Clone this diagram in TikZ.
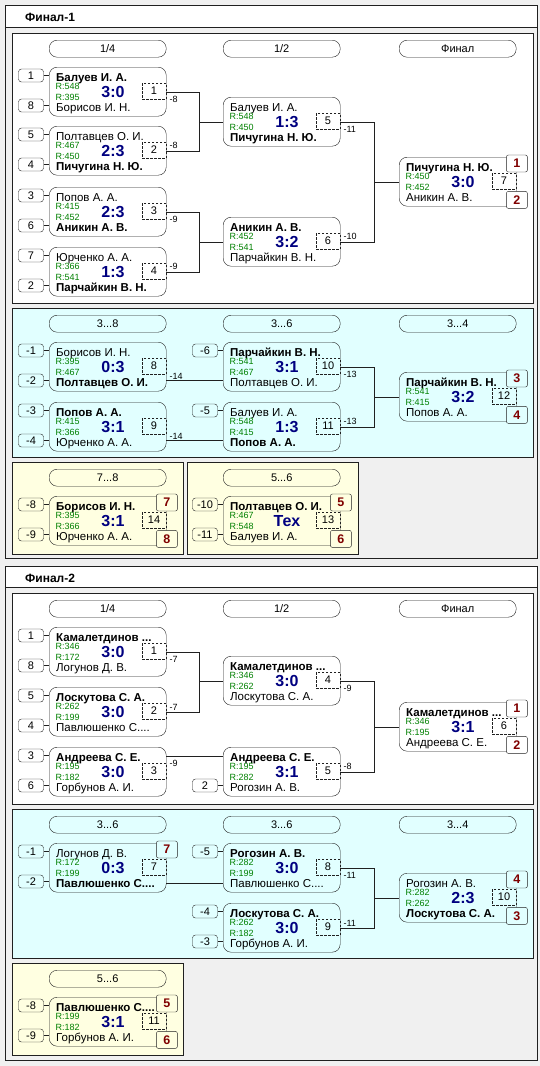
\documentclass[tikz,border=0pt]{standalone}
\usepackage{fontspec}
\setmainfont{Liberation Sans}
\definecolor{bg}{HTML}{F0F0F0}
\definecolor{cy}{HTML}{E1FFFF}
\definecolor{ye}{HTML}{FFFFE1}
\definecolor{navy}{HTML}{000080}
\definecolor{rgreen}{HTML}{008000}
\definecolor{medalred}{HTML}{800000}
\definecolor{edge}{HTML}{202020}
\tikzset{
 every node/.style={inner sep=0pt},
 mbox/.style={draw=edge, rounded corners=8pt, minimum width=117pt, minimum height=49pt, anchor=north west},
 nm/.style={anchor=base west, font=\fontsize{11.5}{13}\selectfont},
 rt/.style={anchor=base west, text=rgreen, font=\fontsize{9}{10}\selectfont},
 sc/.style={anchor=base, text=navy, font=\fontsize{16}{18}\selectfont\bfseries},
 dbox/.style={draw=edge, dash pattern=on 2.5pt off 1.5pt, minimum width=24pt, minimum height=16pt, font=\fontsize{11}{13}\selectfont},
 seedbox/.style={draw=edge, rounded corners=3pt, minimum width=25pt, minimum height=13pt, font=\fontsize{11}{13}\selectfont},
 pill/.style={draw=edge, rounded corners=8pt, minimum width=117pt, minimum height=17pt, anchor=north west, font=\fontsize{11}{13}\selectfont},
 medal/.style={draw=edge, fill=#1, rounded corners=2pt, minimum width=21pt, minimum height=17pt, text=medalred, font=\fontsize{12.5}{14}\selectfont\bfseries},
 medal/.default=white,
 lbl/.style={font=\fontsize{9}{10}\selectfont},
 panel/.style={draw=edge},
 ttl/.style={anchor=base west, font=\fontsize{12}{14}\selectfont\bfseries},
}
\newcommand\mtch[9]{%
 \node[mbox] (#1) at (#2,#3) {};
 \node[nm] (#1-t) at ({#2+7},{#3+14}) {#4};
 \node[rt] (#1-r1) at ({#2+6.5},{#3+22}) {R:#5};
 \node[rt] (#1-r2) at ({#2+6.5},{#3+33}) {R:#6};
 \node[sc] (#1-s) at ({#2+64},{#3+30}) {#7};
 \node[nm] (#1-b) at ({#2+7},{#3+44}) {#8};
 \node[dbox] (#1-n) at ({#2+105},{#3+24}) {#9};
}
\newcommand\sdT[2]{\node[seedbox] (#1-st) at ([shift={(-18pt,-8.5pt)}]#1.north west) {#2}; \draw[edge] (#1-st.east) -- (#1-st.east -| #1.west);}
\newcommand\sdB[2]{\node[seedbox] (#1-sb) at ([shift={(-18pt,-38.5pt)}]#1.north west) {#2}; \draw[edge] (#1-sb.east) -- (#1-sb.east -| #1.west);}
\newcommand\mdT[3]{\node[medal=#3] (#1-mt) at ([shift={(0.5pt,-6.5pt)}]#1.north east) {#2};}
\newcommand\mdB[3]{\node[medal=#3] (#1-mb) at ([shift={(0.5pt,6.5pt)}]#1.south east) {#2};}
\newcommand\lb[2]{\node[lbl,anchor=north west] (#1-lb) at ([shift={(3pt,-4pt)}]#1.east) {#2};}
\newcommand\la[2]{\node[lbl,anchor=south west] (#1-la) at ([shift={(3pt,1.5pt)}]#1.east) {#2};}
\begin{document}
\begin{tikzpicture}[x=1pt,y=-1pt]
\useasboundingbox (0,0) rectangle (540,1066);
\fill[bg] (0,0) rectangle (540,1066);
% ---------- Final 1 frame
\draw[panel, fill=bg] (5,5) rectangle (537,558);
\draw[panel, fill=white] (5,5) rectangle (537,27);
\node[ttl] (t1) at (25,21) {Финал-1};
\draw[panel, fill=white] (12,33) rectangle (533,303);
\draw[panel, fill=cy] (12,308) rectangle (533,457);
\draw[panel, fill=ye] (12,462) rectangle (183,554);
\draw[panel, fill=ye] (187,462) rectangle (358,554);
% pills
\node[pill] (p1) at (49,40) {1/4};
\node[pill] (p2) at (223,40) {1/2};
\node[pill] (p3) at (399,40) {Финал};
\node[pill] (p4) at (49,315) {3...8};
\node[pill] (p5) at (223,315) {3...6};
\node[pill] (p6) at (399,315) {3...4};
\node[pill] (p7) at (49,469) {7...8};
\node[pill] (p8) at (223,469) {5...6};
% matches
\mtch{m1}{49}{67}{\bfseries Балуев И. А.}{548}{395}{3:0}{Борисов И. Н.}{1}
\mtch{m2}{49}{126}{Полтавцев О. И.}{467}{450}{2:3}{\bfseries Пичугина Н. Ю.}{2}
\mtch{m3}{49}{187}{Попов А. А.}{415}{452}{2:3}{\bfseries Аникин А. В.}{3}
\mtch{m4}{49}{247}{Юрченко А. А.}{366}{541}{1:3}{\bfseries Парчайкин В. Н.}{4}
\mtch{s5}{223}{97}{Балуев И. А.}{548}{450}{1:3}{\bfseries Пичугина Н. Ю.}{5}
\mtch{s6}{223}{217}{\bfseries Аникин А. В.}{452}{541}{3:2}{Парчайкин В. Н.}{6}
\mtch{f7}{399}{157}{\bfseries Пичугина Н. Ю.}{450}{452}{3:0}{Аникин А. В.}{7}
\mtch{m8}{49}{342}{Борисов И. Н.}{395}{467}{0:3}{\bfseries Полтавцев О. И.}{8}
\mtch{m9}{49}{402}{\bfseries Попов А. А.}{415}{366}{3:1}{Юрченко А. А.}{9}
\mtch{m10}{223}{342}{\bfseries Парчайкин В. Н.}{541}{467}{3:1}{Полтавцев О. И.}{10}
\mtch{m11}{223}{402}{Балуев И. А.}{548}{415}{1:3}{\bfseries Попов А. А.}{11}
\mtch{m12}{399}{372}{\bfseries Парчайкин В. Н.}{541}{415}{3:2}{Попов А. А.}{12}
\mtch{m14}{49}{496}{\bfseries Борисов И. Н.}{395}{366}{3:1}{Юрченко А. А.}{14}
\mtch{m13}{223}{496}{\bfseries Полтавцев О. И.}{467}{548}{Тех}{Балуев И. А.}{13}
% seeds
\sdT{m1}{1}\sdB{m1}{8}
\sdT{m2}{5}\sdB{m2}{4}
\sdT{m3}{3}\sdB{m3}{6}
\sdT{m4}{7}\sdB{m4}{2}
\sdT{m8}{-1}\sdB{m8}{-2}
\sdT{m9}{-3}\sdB{m9}{-4}
\sdT{m10}{-6}
\sdT{m11}{-5}
\sdT{m14}{-8}\sdB{m14}{-9}
\sdT{m13}{-10}\sdB{m13}{-11}
% medals
\mdT{f7}{1}{white}\mdB{f7}{2}{white}
\mdT{m12}{3}{cy}\mdB{m12}{4}{cy}
\mdT{m14}{7}{ye}\mdB{m14}{8}{ye}
\mdT{m13}{5}{ye}\mdB{m13}{6}{ye}
% connectors
\coordinate (v1) at (199,0);
\coordinate (v2) at (374,0);
\draw[edge] (m1.east) -| (v1 |- m2.east) -- (m2.east);
\draw[edge] (v1 |- s5.west) -- (s5.west);
\draw[edge] (m3.east) -| (v1 |- m4.east) -- (m4.east);
\draw[edge] (v1 |- s6.west) -- (s6.west);
\draw[edge] (s5.east) -| (v2 |- s6.east) -- (s6.east);
\draw[edge] (v2 |- f7.west) -- (f7.west);
\lb{m1}{-8}\la{m2}{-8}\lb{m3}{-9}\la{m4}{-9}\lb{s5}{-11}\la{s6}{-10}
\draw[edge] ([yshift=-13.5pt]m8.east) -- ([yshift=-13.5pt]m10.west);
\draw[edge] ([yshift=-13.5pt]m9.east) -- ([yshift=-13.5pt]m11.west);
\node[lbl,anchor=south west] (m8-la) at ([shift={(3pt,-12.5pt)}]m8.east) {-14};
\node[lbl,anchor=south west] (m9-la) at ([shift={(3pt,-12.5pt)}]m9.east) {-14};
\draw[edge] (m10.east) -| (v2 |- m11.east) -- (m11.east);
\draw[edge] (v2 |- m12.west) -- (m12.west);
\lb{m10}{-13}\la{m11}{-13}
% ---------- Final 2 frame
\draw[panel, fill=bg] (5,566) rectangle (537,1060);
\draw[panel, fill=white] (5,566) rectangle (537,587);
\node[ttl] (t2) at (25,582) {Финал-2};
\draw[panel, fill=white] (12,593) rectangle (533,804);
\draw[panel, fill=cy] (12,809) rectangle (533,958);
\draw[panel, fill=ye] (12,963) rectangle (183,1055);
\node[pill] (q1) at (49,600) {1/4};
\node[pill] (q2) at (223,600) {1/2};
\node[pill] (q3) at (399,600) {Финал};
\node[pill] (q4) at (49,816) {3...6};
\node[pill] (q5) at (223,816) {3...6};
\node[pill] (q6) at (399,816) {3...4};
\node[pill] (q7) at (49,970) {5...6};
\mtch{n1}{49}{627}{\bfseries Камалетдинов ...}{346}{172}{3:0}{Логунов Д. В.}{1}
\mtch{n2}{49}{687}{\bfseries Лоскутова С. А.}{262}{199}{3:0}{Павлюшенко С....}{2}
\mtch{n3}{49}{747}{\bfseries Андреева С. Е.}{195}{182}{3:0}{Горбунов А. И.}{3}
\mtch{n4}{223}{656}{\bfseries Камалетдинов ...}{346}{262}{3:0}{Лоскутова С. А.}{4}
\mtch{n5}{223}{747}{\bfseries Андреева С. Е.}{195}{282}{3:1}{Рогозин А. В.}{5}
\mtch{n6}{399}{702}{\bfseries Камалетдинов ...}{346}{195}{3:1}{Андреева С. Е.}{6}
\mtch{n7}{49}{843}{Логунов Д. В.}{172}{199}{0:3}{\bfseries Павлюшенко С....}{7}
\mtch{n8}{223}{843}{\bfseries Рогозин А. В.}{282}{199}{3:0}{Павлюшенко С....}{8}
\mtch{n9}{223}{903}{\bfseries Лоскутова С. А.}{262}{182}{3:0}{Горбунов А. И.}{9}
\mtch{n10}{399}{873}{Рогозин А. В.}{282}{262}{2:3}{\bfseries Лоскутова С. А.}{10}
\mtch{n11}{49}{997}{\bfseries Павлюшенко С....}{199}{182}{3:1}{Горбунов А. И.}{11}
\sdT{n1}{1}\sdB{n1}{8}
\sdT{n2}{5}\sdB{n2}{4}
\sdT{n3}{3}\sdB{n3}{6}
\sdB{n5}{2}
\sdT{n7}{-1}\sdB{n7}{-2}
\sdT{n8}{-5}
\sdT{n9}{-4}\sdB{n9}{-3}
\sdT{n11}{-8}\sdB{n11}{-9}
\mdT{n6}{1}{white}\mdB{n6}{2}{white}
\mdT{n7}{7}{cy}
\mdT{n10}{4}{cy}\mdB{n10}{3}{cy}
\mdT{n11}{5}{ye}\mdB{n11}{6}{ye}
\draw[edge] (n1.east) -| (v1 |- n2.east) -- (n2.east);
\draw[edge] (v1 |- n4.west) -- (n4.west);
\draw[edge] ([yshift=15.5pt]n3.east) -- ([yshift=15.5pt]n5.west);
\node[lbl,anchor=north west] (n3-lb) at ([shift={(3pt,11.5pt)}]n3.east) {-9};
\draw[edge] (n4.east) -| (v2 |- n5.east) -- (n5.east);
\draw[edge] (v2 |- n6.west) -- (n6.west);
\lb{n1}{-7}\la{n2}{-7}\lb{n4}{-9}\la{n5}{-8}
\draw[edge] ([yshift=-15.5pt]n7.east) -- ([yshift=-15.5pt]n8.west);
\draw[edge] (n8.east) -| (v2 |- n9.east) -- (n9.east);
\draw[edge] (v2 |- n10.west) -- (n10.west);
\lb{n8}{-11}\la{n9}{-11}
\end{tikzpicture}
\end{document}
